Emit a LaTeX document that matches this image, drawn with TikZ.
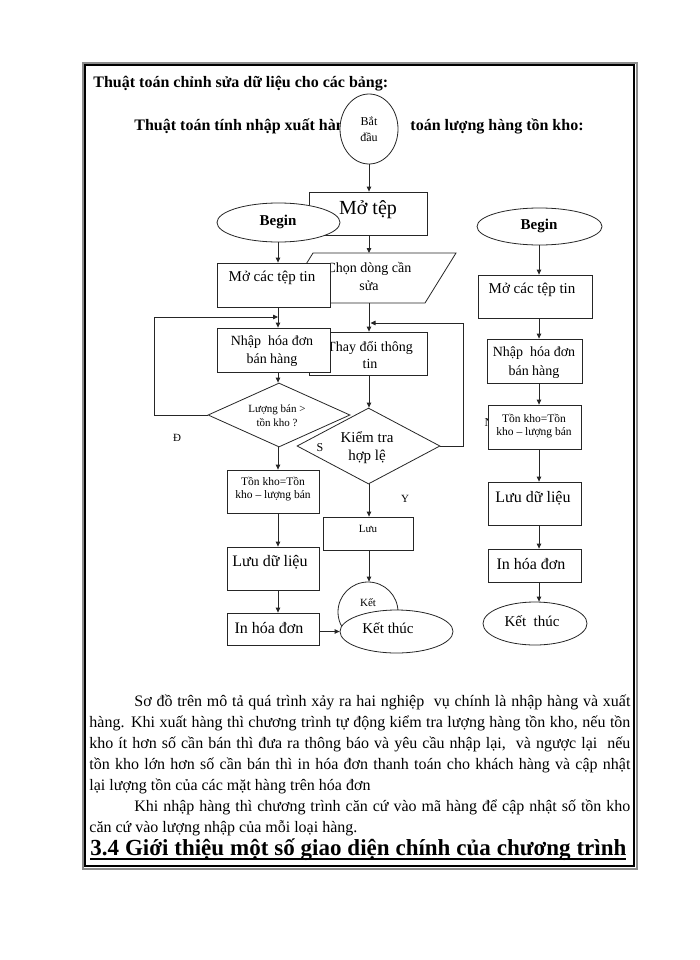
\documentclass[tikz,border=0pt]{standalone}
\usepackage{fontspec}
\setmainfont{Liberation Serif}
\usetikzlibrary{arrows.meta,shapes.geometric}

\newcommand{\fsz}[2]{\fontsize{#1}{#2}\selectfont}

\begin{document}
\begin{tikzpicture}[x=1pt,y=-1pt,every path/.style={line width=0.8pt},
	box/.style={draw=black!85,fill=white,rectangle,inner sep=0pt},
	oval/.style={draw=black!85,fill=white,ellipse,inner sep=0pt},
	rhomb/.style={draw=black!85,fill=white,diamond,inner sep=0pt},
	txt/.style={inner sep=0pt,align=center},
	para/.style={inner sep=0pt,anchor=base west,font=\fsz{16}{21}},
	link/.style={draw=black!85,-{Triangle[length=5pt,width=4.5pt]}}]
	\fill[white] (0,0) rectangle (700,960);
	\useasboundingbox (0,0) rectangle (700,960);
	\draw[black!45,line width=2pt] (83,63) rectangle (637,869);
	\draw[black,line width=2.5pt] (85,65) rectangle (634,866);

	\coordinate (cx) at (369,0);
	\coordinate (lx) at (278,0);
	\coordinate (rx) at (539,0);

	\node[txt,anchor=base west,font=\fsz{16}{20}\bfseries] (title) at (93,88) {Thuật toán chỉnh sửa dữ liệu cho các bảng:};
	\node[txt,anchor=base west,font=\fsz{16}{20}\bfseries] (subl) at (134,131) {Thuật toán tính nhập xuất hàng};
	\node[txt,anchor=base east,font=\fsz{16}{20}\bfseries] (subr) at (584,131) {toán lượng hàng tồn kho:};
	\node[oval,minimum width=58pt,minimum height=70pt] (batdau) at (369,129) {};
	\node[txt,font=\fsz{12}{16}] at (369,129) {Bắt\\đầu};

	\node[box,minimum width=118pt,minimum height=43pt] (motep) at (368,213.5) {};
	\node[txt,font=\fsz{20}{24}] at (368,210) {Mở tệp};
	\node[oval,minimum width=123pt,minimum height=39pt] (beginl) at (278.5,222.5) {};
	\node[txt,font=\fsz{15}{18}\bfseries] at (278,222) {Begin};

	\filldraw[draw=black!85,fill=white] (313,253) -- (456,253) -- (425,303) -- (282,303) -- cycle;
	\coordinate (chonN) at (369,253);
	\coordinate (chonS) at (369,303);
	\node[txt,font=\fsz{14}{18}] at (369,276) {Chọn dòng cần\\sửa};
	\node[box,minimum width=113pt,minimum height=44pt] (mocacl) at (273.5,285) {};
	\node[txt,font=\fsz{15}{18}] at (272,278) {Mở các tệp tin};

	\node[box,minimum width=118pt,minimum height=43pt] (thaydoi) at (368,353.5) {};
	\node[txt,font=\fsz{14}{17}] at (370,354.5) {Thay đổi thông\\tin};
	\node[box,minimum width=113pt,minimum height=44pt] (nhapl) at (273.5,350) {};
	\node[txt,font=\fsz{14}{18}] at (272,351) {Nhập\ \ hóa đơn\\bán hàng};

	\node[rhomb,minimum width=143pt,minimum height=76pt] (kiemtra) at (368.5,446) {};
	\node[txt,font=\fsz{15}{18}] at (367,448) {Kiểm tra\\hợp lệ};
	\node[rhomb,minimum width=142pt,minimum height=64pt] (luongban) at (279,415) {};
	\node[txt,font=\fsz{11}{14}] at (277,416) {Lượng bán >\\tồn kho ?};
	\node[txt,font=\fsz{12}{14}] at (320,448) {S};
	\node[txt,font=\fsz{11}{14}] at (177,438) {Đ};

	\node[box,minimum width=92pt,minimum height=43pt] (tonl) at (273,491.5) {};
	\node[txt,font=\fsz{11.5}{12.5}] at (273,489) {Tồn kho=Tồn\\kho -- lượng bán};
	\node[box,minimum width=92pt,minimum height=43pt] (luudll) at (273,568.5) {};
	\node[txt,font=\fsz{16}{18}] at (270,562) {Lưu dữ liệu};
	\node[box,minimum width=92pt,minimum height=32pt] (inhoal) at (273,629) {};
	\node[txt,font=\fsz{16}{18}] at (269,628) {In hóa đơn};

	\node[box,minimum width=90pt,minimum height=33pt] (luu) at (368,533.5) {};
	\node[txt,font=\fsz{11}{14}] at (368,529) {Lưu};
	\node[txt,font=\fsz{11}{14}] at (405,499) {Y};
	\node[oval,minimum width=60pt,minimum height=60pt] (ket) at (368,612) {};
	\node[txt,font=\fsz{11}{14}] at (368,603) {Kết};
	\node[oval,minimum width=113pt,minimum height=43pt] (ketthucl) at (396.5,631.5) {};
	\node[txt,font=\fsz{15}{18}] at (388,628) {Kết thúc};

	\node[oval,minimum width=125pt,minimum height=37pt] (beginr) at (539.5,226.5) {};
	\node[txt,font=\fsz{15}{18}\bfseries] at (539,226) {Begin};
	\node[box,minimum width=114pt,minimum height=43pt] (mocacr) at (535,296.5) {};
	\node[txt,font=\fsz{15}{18}] at (532,290) {Mở các tệp tin};
	\node[box,minimum width=95pt,minimum height=44pt] (nhapr) at (534.5,361) {};
	\node[txt,font=\fsz{14}{19}] at (534,362.5) {Nhập\ \ hóa đơn\\bán hàng};
	\node[txt,font=\fsz{12}{14}] at (489,423) {N};
	\node[box,minimum width=93pt,minimum height=44pt] (tonr) at (534.5,427) {};
	\node[txt,font=\fsz{11.5}{12.5}] at (534,426) {Tồn kho=Tồn\\kho -- lượng bán};
	\node[box,minimum width=93pt,minimum height=43pt] (luudlr) at (534.5,503.5) {};
	\node[txt,font=\fsz{16}{18}] at (533,498) {Lưu dữ liệu};
	\node[box,minimum width=93pt,minimum height=33pt] (inhoar) at (534.5,565.5) {};
	\node[txt,font=\fsz{16}{18}] at (531,564) {In hóa đơn};
	\node[oval,minimum width=104pt,minimum height=43pt] (ketthucr) at (535,623.5) {};
	\node[txt,font=\fsz{15}{18}] at (532,621) {Kết\ \ thúc};

	\draw[link] (batdau.south -| cx) -- (motep.north -| cx);
	\draw[link] (motep.south -| cx) -- (chonN);
	\draw[link] (chonS) -- (thaydoi.north -| cx);
	\draw[link] (thaydoi.south -| cx) -- (kiemtra.north -| cx);
	\draw[link] (kiemtra.south -| cx) -- (luu.north -| cx);
	\draw[link] (luu.south -| cx) -- (ket.north -| cx);
	\coordinate (rloop) at (463,323);
	\draw[link] (kiemtra.east) -| (rloop) -- ([xshift=1.5pt]rloop -| cx);

	\draw[link] (beginl.south -| lx) -- (mocacl.north -| lx);
	\draw[link] (mocacl.south -| lx) -- (nhapl.north -| lx);
	\draw[link] (nhapl.south -| lx) -- (luongban.north -| lx);
	\draw[link] (luongban.south -| lx) -- (tonl.north -| lx);
	\draw[link] (tonl.south -| lx) -- (luudll.north -| lx);
	\draw[link] (luudll.south -| lx) -- (inhoal.north -| lx);
	\draw[link] (inhoal.east |- ketthucl.west) -- (ketthucl.west);
	\coordinate (lloop) at (154,317);
	\draw[link] (luongban.west) -| (lloop) -- (lloop -| lx);

	\draw[link] (beginr.south -| rx) -- (mocacr.north -| rx);
	\draw[link] (mocacr.south -| rx) -- (nhapr.north -| rx);
	\draw[link] (nhapr.south -| rx) -- (tonr.north -| rx);
	\draw[link] (tonr.south -| rx) -- (luudlr.north -| rx);
	\draw[link] (luudlr.south -| rx) -- (inhoar.north -| rx);
	\draw[link] (inhoar.south -| rx) -- (ketthucr.north -| rx);

	\node[para] (p1) at (134,706) {\makebox[496pt][s]{Sơ đồ trên mô tả quá trình xảy ra hai nghiệp\ \ vụ chính là nhập hàng và xuất}};
	\node[para] (p2) at (89,727) {\makebox[541pt][s]{hàng. Khi xuất hàng thì chương trình tự động kiểm tra lượng hàng tồn kho, nếu tồn}};
	\node[para] (p3) at (89,748) {\makebox[541pt][s]{kho ít hơn số cần bán thì đưa ra thông báo và yêu cầu nhập lại,\ \ và ngược lại\ \ nếu}};
	\node[para] (p4) at (89,769) {\makebox[541pt][s]{tồn kho lớn hơn số cần bán thì in hóa đơn thanh toán cho khách hàng và cập nhật}};
	\node[para] (p5) at (89,790) {lại lượng tồn của các mặt hàng trên hóa đơn};
	\node[para] (p6) at (134,811) {\makebox[496pt][s]{Khi nhập hàng thì chương trình căn cứ vào mã hàng để cập nhật số tồn kho}};
	\node[para] (p7) at (89,832) {căn cứ vào lượng nhập của mỗi loại hàng.};
	\node[para,font=\fsz{23}{26}\bfseries] (head) at (90,855) {\makebox[536pt][s]{3.4 Giới thiệu một số giao diện chính của chương trình}};
	\draw[line width=2pt] (head.base west) ++(0,4) -- ++(536,0);
\end{tikzpicture}
\end{document}
